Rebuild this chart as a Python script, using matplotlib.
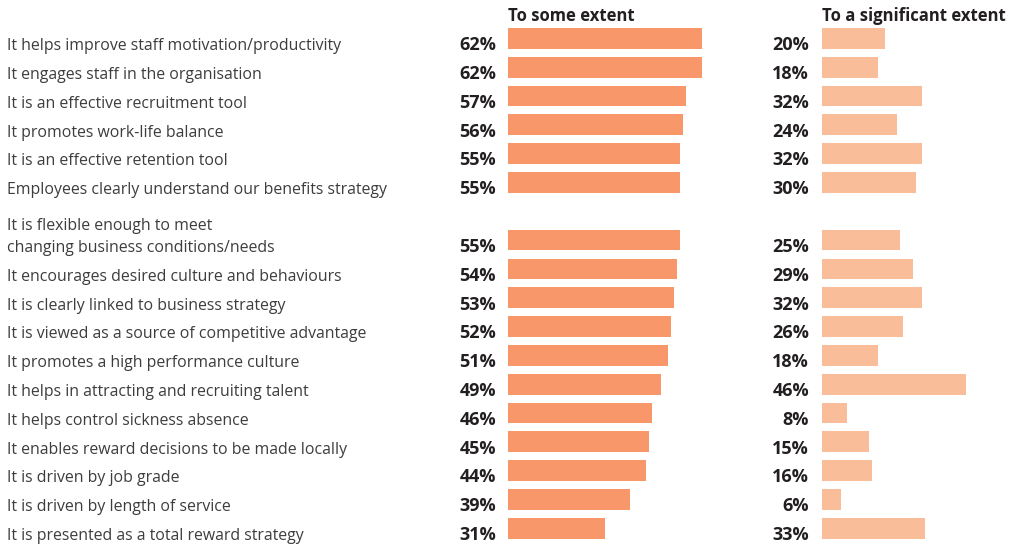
import matplotlib

matplotlib.use("Agg")
import matplotlib.pyplot as plt
from matplotlib.transforms import blended_transform_factory, offset_copy

# statements, top to bottom; the seventh wraps onto two lines
labels = [
    "It helps improve staff motivation/productivity",
    "It engages staff in the organisation",
    "It is an effective recruitment tool",
    "It promotes work-life balance",
    "It is an effective retention tool",
    "Employees clearly understand our benefits strategy",
    "It is flexible enough to meet\nchanging business conditions/needs",
    "It encourages desired culture and behaviours",
    "It is clearly linked to business strategy",
    "It is viewed as a source of competitive advantage",
    "It promotes a high performance culture",
    "It helps in attracting and recruiting talent",
    "It helps control sickness absence",
    "It enables reward decisions to be made locally",
    "It is driven by job grade",
    "It is driven by length of service",
    "It is presented as a total reward strategy",
]
some_extent = [62, 62, 57, 56, 55, 55, 55, 54, 53, 52, 51, 49, 46, 45, 44, 39, 31]
significant = [20, 18, 32, 24, 32, 30, 25, 29, 32, 26, 18, 46, 8, 15, 16, 6, 33]
headers = ["To some extent", "To a significant extent"]

# row slots: the two-line statement takes an extra slot above its bar
rows = list(range(6)) + list(range(7, 18))

W, H = 1010, 544
PX_PER_PCT = 3.13
FONT = "Open Sans"
DARK = "#231f20"
TEXT = "#3d3d3d"
COLORS = ["#f7976a", "#f9bd9a"]

fig = plt.figure(figsize=(W / 100, H / 100), dpi=100)

top_px, bottom_px = 38.3, 528.3
row_px = (bottom_px - top_px) / 17
ylim = (17 + (H - bottom_px) / row_px, -top_px / row_px)

axes = []
for left_px, vals, color in [(508, some_extent, COLORS[0]), (822, significant, COLORS[1])]:
    width_px = W - left_px
    ax = fig.add_axes([left_px / W, 0, width_px / W, 1])
    ax.barh(rows, vals, height=0.72, color=color, linewidth=0)
    ax.set_xlim(0, width_px / PX_PER_PCT)
    ax.set_ylim(*ylim)
    ax.axis("off")
    axes.append(ax)

ax0 = axes[0]
# text baselines sit a little below the bar centres, as in the source layout
trans = blended_transform_factory(fig.transFigure, ax0.transData)
trans = offset_copy(trans, fig=fig, y=-11.8, units="dots")
line_gap = 22 / row_px
for y, lab, a, b in zip(rows, labels, some_extent, significant):
    # wrapped labels: last line sits level with the bar, earlier lines above
    parts = lab.split("\n")
    for k, part in enumerate(reversed(parts)):
        ax0.text(7 / W, y - k * line_gap, part, transform=trans, ha="left",
                 va="baseline", fontsize=11.45, color=TEXT, family=FONT)
    ax0.text(496 / W, y, f"{a}%", transform=trans, ha="right", va="baseline",
             fontsize=13, color=DARK, family=FONT, fontweight="bold")
    ax0.text(809 / W, y, f"{b}%", transform=trans, ha="right", va="baseline",
             fontsize=13, color=DARK, family=FONT, fontweight="bold")

for ax, head in zip(axes, headers):
    ax.text(0, -(top_px - 21) / row_px, head, ha="left", va="baseline", fontsize=12,
            color=DARK, family=FONT, fontweight="bold")

fig.savefig("out.png", dpi=100)
